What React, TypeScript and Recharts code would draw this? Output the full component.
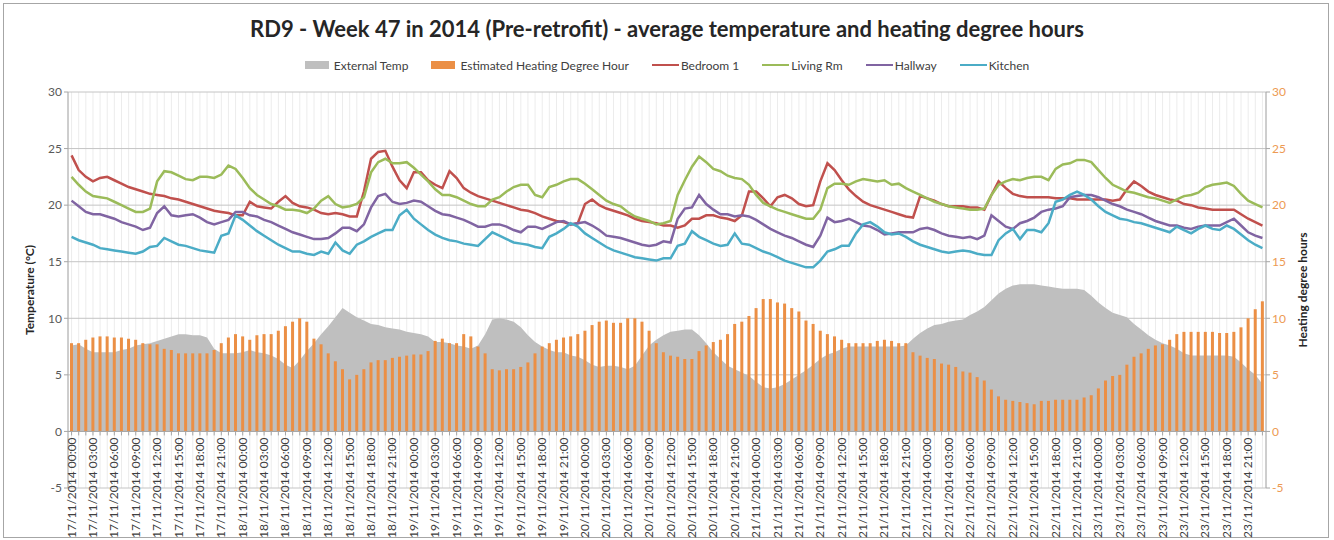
import {
  ComposedChart,
  Area,
  Bar,
  Line,
  XAxis,
  YAxis,
  CartesianGrid,
  ReferenceLine,
  Legend
} from 'recharts';

// hourly readings, 17/11/2014 00:00 .. 23/11/2014 23:00
const days = ['17/11/2014', '18/11/2014', '19/11/2014', '20/11/2014', '21/11/2014', '22/11/2014', '23/11/2014'];
const hours = Array.from({ length: 24 }, (_, h) => `${String(h).padStart(2, '0')}:00`);
const timeLabels = days.flatMap((d) => hours.map((h) => `${d} ${h}`));

const externalTemp = [
  7.6, 7.7, 7.3, 7.0, 7.0, 7.0, 7.0, 7.2, 7.3, 7.6, 7.7, 7.8, 8.0, 8.2, 8.4, 8.6, 8.6, 8.5, 8.5, 8.3, 7.3, 6.9, 6.9, 6.9,
  7.0, 7.2, 7.0, 6.9, 6.7, 6.4, 5.9, 5.6, 6.3, 7.1, 7.8, 8.6, 9.3, 10.1, 10.9, 10.5, 10.1, 9.8, 9.5, 9.4, 9.2, 9.1, 9.0, 8.8,
  8.7, 8.6, 8.4, 7.9, 7.9, 7.8, 7.6, 7.5, 7.3, 7.6, 8.6, 9.9, 10.0, 9.9, 9.7, 9.2, 8.5, 7.9, 7.5, 7.2, 7.0, 7.0, 6.7, 6.6,
  6.3, 5.9, 5.7, 5.8, 5.8, 5.7, 5.5, 5.8, 6.7, 7.6, 8.1, 8.5, 8.8, 8.9, 9.0, 9.0, 8.5, 7.8, 7.0, 6.4, 5.8, 5.5, 5.2, 4.9,
  4.4, 3.9, 3.8, 3.9, 4.2, 4.6, 5.0, 5.4, 5.9, 6.4, 6.8, 7.0, 7.3, 7.5, 7.5, 7.5, 7.5, 7.5, 7.5, 7.5, 7.5, 7.6, 8.2, 8.7,
  9.1, 9.4, 9.5, 9.7, 9.8, 9.9, 10.3, 10.6, 11.0, 11.6, 12.2, 12.6, 12.9, 13.0, 13.0, 13.0, 12.9, 12.8, 12.7, 12.6, 12.6, 12.6, 12.5, 12.0,
  11.4, 10.9, 10.5, 10.3, 10.1, 9.5, 9.0, 8.5, 8.1, 7.8, 7.6, 7.3, 6.9, 6.7, 6.7, 6.7, 6.7, 6.7, 6.7, 6.6, 6.1, 5.5, 5.0, 4.2
];

const heatingDegreeHours = [
  7.8, 7.8, 8.1, 8.3, 8.4, 8.4, 8.3, 8.3, 8.2, 8.1, 7.8, 7.7, 7.7, 7.3, 7.2, 6.9, 6.9, 6.9, 6.9, 6.9, 7.2, 7.8, 8.3, 8.6,
  8.4, 8.1, 8.5, 8.6, 8.6, 8.9, 9.3, 9.7, 10.0, 9.7, 8.2, 7.7, 6.9, 6.2, 5.5, 4.6, 5.0, 5.5, 6.1, 6.3, 6.3, 6.5, 6.6, 6.7,
  6.8, 6.8, 7.1, 8.0, 8.2, 7.8, 7.8, 8.6, 8.4, 7.5, 6.9, 5.5, 5.4, 5.5, 5.5, 5.7, 6.1, 6.9, 7.5, 7.8, 8.1, 8.3, 8.4, 8.6,
  8.9, 9.4, 9.7, 9.8, 9.6, 9.6, 10.0, 10.0, 9.7, 8.9, 7.8, 7.0, 6.7, 6.6, 6.4, 6.4, 7.1, 7.6, 7.9, 8.1, 8.6, 9.5, 9.7, 10.2,
  10.9, 11.7, 11.7, 11.4, 11.3, 10.9, 10.6, 9.8, 9.5, 8.9, 8.6, 8.4, 8.1, 7.8, 7.8, 7.8, 7.8, 8.0, 8.1, 8.0, 7.8, 7.8, 7.0, 6.7,
  6.5, 6.4, 6.0, 5.9, 5.7, 5.3, 5.2, 4.8, 4.5, 3.7, 3.1, 2.8, 2.7, 2.6, 2.5, 2.4, 2.7, 2.7, 2.8, 2.8, 2.8, 2.8, 3.0, 3.2,
  3.8, 4.5, 4.9, 5.0, 5.9, 6.6, 6.9, 7.3, 7.6, 7.7, 8.1, 8.6, 8.8, 8.8, 8.8, 8.8, 8.8, 8.7, 8.7, 8.8, 9.2, 10.0, 10.8, 11.5
];

const bedroom1 = [
  24.4, 23.1, 22.5, 22.1, 22.4, 22.5, 22.2, 21.9, 21.6, 21.4, 21.2, 21.0, 20.9, 20.8, 20.6, 20.5, 20.3, 20.1, 19.9, 19.7, 19.5, 19.4, 19.3, 19.1,
  19.1, 20.3, 19.9, 19.8, 19.7, 20.3, 20.8, 20.2, 19.9, 19.8, 19.6, 19.3, 19.2, 19.3, 19.2, 19.0, 19.0, 21.2, 24.1, 24.7, 24.8, 23.4, 22.2, 21.5,
  22.9, 22.9, 22.2, 21.8, 21.5, 23.0, 22.4, 21.5, 21.1, 20.8, 20.6, 20.4, 20.2, 20.0, 19.8, 19.6, 19.5, 19.3, 19.0, 18.8, 18.6, 18.5, 18.3, 18.4,
  20.1, 20.5, 20.0, 19.7, 19.5, 19.3, 19.1, 18.8, 18.6, 18.5, 18.4, 18.2, 18.2, 18.0, 18.2, 18.8, 18.8, 19.1, 19.1, 18.9, 18.8, 18.6, 19.1, 21.2,
  21.2, 20.6, 19.9, 20.7, 20.9, 20.6, 20.1, 19.9, 20.0, 22.1, 23.7, 23.1, 22.2, 21.4, 20.8, 20.3, 20.0, 19.8, 19.6, 19.4, 19.2, 19.0, 18.9, 20.8,
  20.6, 20.4, 20.1, 19.9, 19.9, 19.9, 19.8, 19.8, 19.6, 20.9, 22.1, 21.5, 21.0, 20.8, 20.7, 20.7, 20.7, 20.7, 20.6, 20.6, 20.6, 20.5, 20.5, 20.5,
  20.5, 20.5, 20.4, 20.5, 21.4, 22.1, 21.7, 21.2, 20.9, 20.7, 20.5, 20.4, 20.1, 20.0, 19.8, 19.7, 19.6, 19.6, 19.6, 19.6, 19.2, 18.8, 18.5, 18.2
];

const livingRm = [
  22.5, 21.8, 21.2, 20.8, 20.7, 20.6, 20.3, 20.0, 19.7, 19.4, 19.4, 19.7, 22.1, 23.0, 22.9, 22.6, 22.3, 22.2, 22.5, 22.5, 22.4, 22.7, 23.5, 23.2,
  22.4, 21.5, 20.9, 20.5, 20.1, 19.9, 19.6, 19.6, 19.5, 19.3, 19.7, 20.4, 20.8, 20.1, 19.8, 19.9, 20.1, 20.7, 22.9, 23.8, 24.1, 23.7, 23.7, 23.8,
  23.3, 22.7, 22.1, 21.4, 20.9, 20.9, 20.7, 20.4, 20.1, 19.9, 19.9, 20.5, 20.7, 21.2, 21.6, 21.8, 21.8, 20.9, 20.7, 21.6, 21.8, 22.1, 22.3, 22.3,
  21.9, 21.4, 20.9, 20.4, 20.1, 19.9, 19.4, 19.0, 18.8, 18.6, 18.3, 18.4, 18.6, 20.9, 22.2, 23.4, 24.3, 23.8, 23.2, 23.0, 22.6, 22.4, 22.3, 21.8,
  20.9, 20.2, 19.9, 19.6, 19.4, 19.2, 19.0, 18.8, 18.8, 19.6, 21.5, 21.9, 21.9, 21.8, 22.1, 22.3, 22.2, 22.1, 22.2, 21.8, 21.9, 21.5, 21.2, 20.9,
  20.6, 20.3, 20.1, 19.9, 19.8, 19.7, 19.6, 19.6, 19.7, 20.9, 21.8, 22.1, 22.3, 22.2, 22.4, 22.5, 22.5, 22.2, 23.2, 23.6, 23.7, 24.0, 24.0, 23.8,
  23.1, 22.4, 21.8, 21.5, 21.2, 21.1, 20.9, 20.7, 20.6, 20.4, 20.2, 20.5, 20.8, 20.9, 21.1, 21.6, 21.8, 21.9, 22.0, 21.7, 21.0, 20.4, 20.1, 19.8
];

const hallway = [
  20.4, 19.9, 19.4, 19.2, 19.2, 19.0, 18.8, 18.5, 18.3, 18.1, 17.8, 18.0, 19.3, 19.9, 19.1, 19.0, 19.1, 19.2, 18.9, 18.5, 18.3, 18.5, 18.7, 19.4,
  19.4, 19.1, 19.0, 18.7, 18.5, 18.2, 17.9, 17.6, 17.4, 17.2, 17.0, 17.0, 17.1, 17.5, 18.0, 18.0, 17.7, 18.3, 19.8, 20.8, 21.0, 20.3, 20.1, 20.2,
  20.4, 20.3, 19.9, 19.5, 19.2, 19.1, 18.9, 18.7, 18.4, 18.1, 18.1, 18.3, 18.3, 18.1, 17.8, 17.6, 18.1, 18.1, 17.9, 18.2, 18.5, 18.6, 18.3, 18.4,
  18.5, 18.2, 17.8, 17.3, 17.2, 17.1, 16.9, 16.7, 16.5, 16.4, 16.5, 16.8, 16.7, 18.8, 19.7, 19.8, 20.9, 20.1, 19.6, 19.2, 19.2, 19.0, 19.1, 19.0,
  18.7, 18.3, 17.9, 17.6, 17.3, 17.1, 16.8, 16.5, 16.3, 17.3, 18.9, 18.5, 18.6, 18.8, 18.5, 18.2, 18.1, 17.8, 17.4, 17.5, 17.6, 17.6, 17.6, 17.9,
  18.0, 17.8, 17.5, 17.3, 17.2, 17.1, 17.2, 17.0, 17.3, 19.1, 18.6, 18.1, 17.9, 18.4, 18.6, 18.9, 19.4, 19.6, 19.7, 19.9, 20.7, 20.8, 20.9, 20.9,
  20.7, 20.4, 20.1, 19.9, 19.6, 19.4, 19.2, 18.9, 18.6, 18.4, 18.2, 18.2, 18.0, 17.9, 18.1, 18.2, 18.2, 18.2, 18.5, 18.8, 18.2, 17.6, 17.3, 17.1
];

const kitchen = [
  17.2, 16.9, 16.7, 16.5, 16.2, 16.1, 16.0, 15.9, 15.8, 15.7, 15.9, 16.3, 16.4, 17.1, 16.8, 16.5, 16.4, 16.2, 16.0, 15.9, 15.8, 17.3, 17.5, 19.1,
  18.7, 18.2, 17.7, 17.3, 16.9, 16.5, 16.2, 15.9, 15.9, 15.7, 15.6, 15.9, 15.7, 16.7, 16.0, 15.7, 16.5, 16.8, 17.2, 17.5, 17.8, 17.8, 19.1, 19.6,
  18.8, 18.3, 17.8, 17.4, 17.1, 16.9, 16.8, 16.6, 16.5, 16.4, 17.0, 17.6, 17.3, 17.0, 16.7, 16.6, 16.5, 16.3, 16.2, 17.2, 17.5, 17.9, 18.4, 18.1,
  17.5, 17.1, 16.7, 16.3, 16.0, 15.8, 15.6, 15.4, 15.3, 15.2, 15.1, 15.3, 15.3, 16.4, 16.6, 17.7, 17.2, 16.9, 16.6, 16.4, 16.5, 17.5, 16.6, 16.5,
  16.2, 15.9, 15.7, 15.4, 15.1, 14.9, 14.7, 14.5, 14.5, 15.1, 15.9, 16.1, 16.4, 16.4, 17.5, 18.3, 18.5, 18.1, 17.6, 17.4, 17.5, 17.2, 16.8, 16.5,
  16.3, 16.1, 15.9, 15.8, 15.9, 16.0, 15.9, 15.7, 15.6, 15.6, 16.9, 17.5, 17.9, 17.0, 17.8, 17.8, 17.6, 18.4, 20.3, 20.5, 20.9, 21.2, 20.9, 20.5,
  19.9, 19.4, 19.1, 18.8, 18.7, 18.5, 18.4, 18.2, 18.0, 17.8, 17.6, 18.1, 17.8, 17.5, 17.9, 18.2, 17.9, 17.8, 18.2, 17.9, 17.4, 16.9, 16.5, 16.2
];

const data = timeLabels.map((label, i) => ({
  label,
  ext: externalTemp[i],
  hdh: heatingDegreeHours[i],
  bed: bedroom1[i],
  living: livingRm[i],
  hall: hallway[i],
  kitchen: kitchen[i]
}));

const lineSeries = [
  { key: 'bed', name: 'Bedroom 1', color: '#C0504D' },
  { key: 'living', name: 'Living Rm', color: '#9BBB59' },
  { key: 'hall', name: 'Hallway', color: '#8064A2' },
  { key: 'kitchen', name: 'Kitchen', color: '#4BACC6' }
];

const legendItems = [
  { name: 'External Temp', color: '#BFBFBF', kind: 'rect' },
  { name: 'Estimated Heating Degree Hour', color: '#EB8F45', kind: 'rect' },
  ...lineSeries.map((s) => ({ name: s.name, color: s.color, kind: 'line' }))
];

const yTicks = [-5, 0, 5, 10, 15, 20, 25, 30];
const W = 1334;
const H = 540;
const margin = { top: 72, right: 8, bottom: 12, left: 8 };
const LEGEND_H = 20;
const X_AXIS_H = 40;
const plotTop = margin.top + LEGEND_H;
const plotBottom = H - margin.bottom - X_AXIS_H;
// the category axis crosses at 0, not at the bottom of the value range
const zeroY = plotTop + ((plotBottom - plotTop) * 30) / 35;

const TimeTick = ({ x, payload, index }: any) => (
  <g>
    <line x1={x} x2={x} y1={zeroY} y2={zeroY + 4} stroke="#a6a6a6" />
    {index % 3 === 0 && (
      <text
        transform={`translate(${x + 4},${zeroY + 6}) rotate(-90)`}
        textAnchor="end"
        fontSize={12}
        fill="#404040"
      >
        {payload.value}
      </text>
    )}
  </g>
);

const LegendContent = () => (
  <div
    style={{
      display: 'flex',
      justifyContent: 'center',
      alignItems: 'center',
      height: LEGEND_H,
      gap: 23,
      fontSize: 12,
      color: '#404040'
    }}
  >
    {legendItems.map((item) => (
      <div key={item.name} style={{ display: 'flex', alignItems: 'center' }}>
        {item.kind === 'rect' ? (
          <span style={{ width: 24, height: 8, background: item.color, marginRight: 5 }} />
        ) : (
          <span style={{ width: 27, height: 2.5, background: item.color, marginRight: 2 }} />
        )}
        <span>{item.name}</span>
      </div>
    ))}
  </div>
);

const App = () => (
  <div
    style={{
      position: 'absolute',
      left: 0,
      top: 0,
      width: W,
      height: H,
      background: '#fff',
      fontFamily: 'Lato, sans-serif'
    }}
  >
    <div
      style={{
        position: 'absolute',
        left: 3,
        top: 3,
        width: 1324,
        height: 533,
        border: '1px solid #a6a6a6'
      }}
    />
    <div
      style={{
        position: 'absolute',
        left: 0,
        top: 15,
        width: W,
        textAlign: 'center',
        fontSize: 22,
        fontWeight: 700,
        color: '#262626'
      }}
    >
      RD9 - Week 47 in 2014 (Pre-retrofit) - average temperature and heating degree hours
    </div>
    <ComposedChart width={W} height={H} data={data} margin={margin} style={{ fontFamily: 'Lato, sans-serif' }}>
      <CartesianGrid vertical horizontal={false} stroke="#ececec" />
      <CartesianGrid vertical={false} stroke="#c4c4c4" />
      <Legend verticalAlign="top" content={<LegendContent />} wrapperStyle={{ top: 55, left: 0, width: W }} />
      <XAxis
        dataKey="label"
        interval={0}
        height={X_AXIS_H}
        axisLine={false}
        tickLine={false}
        tick={<TimeTick />}
      />
      <YAxis
        domain={[-5, 30]}
        ticks={yTicks}
        width={60}
        tick={{ fill: '#595959', fontSize: 12 }}
        tickSize={4}
        axisLine={{ stroke: '#a6a6a6' }}
        tickLine={{ stroke: '#a6a6a6' }}
        label={{
          value: 'Temperature (°C)',
          angle: -90,
          position: 'center',
          dx: -8,
          style: { fontWeight: 700, fontSize: 12, fill: '#262626' }
        }}
      />
      <YAxis
        yAxisId="right"
        orientation="right"
        domain={[-5, 30]}
        ticks={yTicks}
        width={60}
        tick={{ fill: '#ED9A53', fontSize: 12 }}
        tickSize={4}
        axisLine={{ stroke: '#a6a6a6' }}
        tickLine={{ stroke: '#a6a6a6' }}
        label={{
          value: 'Heating degree hours',
          angle: -90,
          position: 'center',
          dx: 7,
          style: { fontWeight: 700, fontSize: 12, fill: '#262626' }
        }}
      />
      <Area
        type="linear"
        dataKey="ext"
        name="External Temp"
        fill="#BFBFBF"
        fillOpacity={1}
        stroke="none"
        baseValue={0}
        isAnimationActive={false}
      />
      <Bar
        yAxisId="right"
        dataKey="hdh"
        name="Estimated Heating Degree Hour"
        fill="#EB8F45"
        barSize={3}
        isAnimationActive={false}
      />
      <ReferenceLine y={0} stroke="#a6a6a6" />
      {lineSeries.map((s) => (
        <Line
          key={s.key}
          type="linear"
          dataKey={s.key}
          name={s.name}
          stroke={s.color}
          strokeWidth={2.5}
          dot={false}
          isAnimationActive={false}
        />
      ))}
    </ComposedChart>
  </div>
);

export default App;
